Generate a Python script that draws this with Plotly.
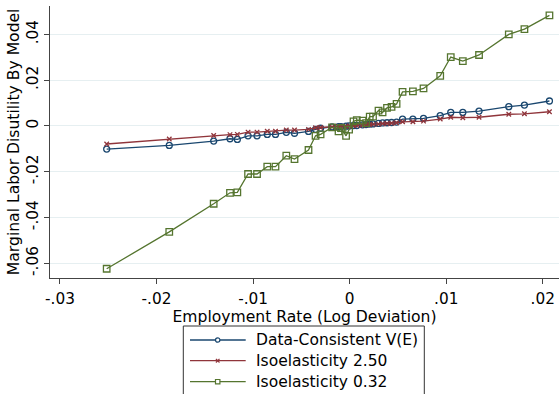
import plotly.graph_objects as go

# Employment rate (log deviation) at each observation
emp_dev = [-0.02516, -0.01868, -0.01408, -0.01239, -0.01163, -0.01052, -0.00959,
           -0.00853, -0.00768, -0.00656, -0.00571, -0.00426, -0.00353, -0.00301,
           -0.00182, -0.00115, -0.00089, -0.00037, -0.00006, 0.00040, 0.00074,
           0.00134, 0.00170, 0.00208, 0.00242, 0.00299, 0.00341, 0.00387,
           0.00434, 0.00486, 0.00548, 0.00655, 0.00765, 0.00938, 0.01047,
           0.01172, 0.01340, 0.01648, 0.01810, 0.02069]

# Marginal labor disutility implied by each model
mld_data = [-0.0101, -0.0085, -0.0066, -0.0056, -0.0059, -0.0043, -0.0043,
            -0.0037, -0.0037, -0.0028, -0.0032, -0.0024, -0.0015, -0.0010,
            -0.0004, -0.0003, -0.0003, -0.0001, 0.0000, 0.0002, 0.0002,
            0.0005, 0.0006, 0.0008, 0.0009, 0.0011, 0.0013, 0.0014,
            0.0015, 0.0017, 0.0030, 0.0030, 0.0033, 0.0045, 0.0059,
            0.0059, 0.0065, 0.0084, 0.0091, 0.0109]

mld_iso_250 = [-0.0079, -0.0057, -0.0042, -0.0038, -0.0037, -0.0027, -0.0027,
               -0.0023, -0.0023, -0.0018, -0.0018, -0.0015, -0.0008, -0.0007,
               -0.0004, -0.0003, -0.0002, -0.0001, 0.0000, 0.0001, 0.0002,
               0.0003, 0.0004, 0.0006, 0.0007, 0.0008, 0.0010, 0.0011,
               0.0012, 0.0014, 0.0018, 0.0018, 0.0021, 0.0030, 0.0038,
               0.0036, 0.0038, 0.0051, 0.0053, 0.0062]

mld_iso_032 = [-0.0624, -0.0463, -0.0340, -0.0292, -0.0290, -0.0210, -0.0210,
               -0.0178, -0.0178, -0.0130, -0.0145, -0.0105, -0.0043, -0.0037,
               -0.0006, -0.0024, -0.0009, -0.0043, -0.0016, 0.0020, 0.0025,
               0.0023, 0.0012, 0.0041, 0.0041, 0.0067, 0.0059, 0.0079,
               0.0083, 0.0096, 0.0149, 0.0151, 0.0164, 0.0219, 0.0301,
               0.0283, 0.0310, 0.0400, 0.0423, 0.0483]

series_names = ["Data-Consistent V(E)", "Isoelasticity 2.50", "Isoelasticity 0.32"]

x_tick_vals = [-0.03, -0.02, -0.01, 0, 0.01, 0.02]
x_tick_text = ["-.03", "-.02", "-.01", "0", ".01", ".02"]
y_tick_vals = [-0.06, -0.04, -0.02, 0, 0.02, 0.04]
y_tick_text = ["-.06", "-.04", "-.02", "0", ".02", ".04"]

NAVY = "#1a476f"
MAROON = "#90353b"
FOREST = "#55752f"
FONT = "DejaVu Sans, Verdana, sans-serif"
FS_TICK = 15.3
FS_TITLE = 15.6
FS_LEGEND = 15.5

W, H = 559, 394
MARGIN_L = 50
PLOT_TOP, PLOT_BOTTOM = 6, 277.7  # plot region edges, px from top


def px_x(px):
    """Horizontal pixel position -> paper coordinate."""
    return (px - MARGIN_L) / (W - MARGIN_L)


def px_y(py):
    """Vertical pixel position (from top) -> paper coordinate."""
    return 1 - py / H


styles = [
    dict(color=NAVY, symbol="circle-open", size=6),
    dict(color=MAROON, symbol="x-thin-open", size=4.5),
    dict(color=FOREST, symbol="square-open", size=6.5),
]

fig = go.Figure()
for name, values, st in zip(series_names, [mld_data, mld_iso_250, mld_iso_032], styles):
    fig.add_trace(go.Scatter(
        x=emp_dev, y=values, mode="lines+markers", name=name,
        line=dict(color=st["color"], width=1.3),
        marker=dict(symbol=st["symbol"], size=st["size"], color=st["color"],
                    line=dict(width=1.3, color=st["color"])),
    ))

# Legend box below the plot (runs past the lower edge of the figure)
shapes = [dict(type="rect", xref="paper", yref="paper",
               x0=px_x(183.3), x1=px_x(424.3), y0=px_y(326), y1=px_y(402),
               line=dict(color="#333333", width=1), fillcolor="white", layer="above")]
annotations = []
row_y = [340, 360.7, 381.7]
line_x0, line_x1, mark_x, text_x = 190, 245.7, 217.7, 254
for name, st, ry in zip(series_names, styles, row_y):
    c = st["color"]
    shapes.append(dict(type="line", xref="paper", yref="paper",
                       x0=px_x(line_x0), x1=px_x(line_x1), y0=px_y(ry), y1=px_y(ry),
                       line=dict(color=c, width=1.3), layer="above"))
    r = 2.2
    if st["symbol"].startswith("circle"):
        shapes.append(dict(type="circle", xref="paper", yref="paper",
                           x0=px_x(mark_x - r), x1=px_x(mark_x + r),
                           y0=px_y(ry + r), y1=px_y(ry - r),
                           line=dict(color=c, width=1.2), fillcolor="white", layer="above"))
    elif st["symbol"].startswith("square"):
        shapes.append(dict(type="rect", xref="paper", yref="paper",
                           x0=px_x(mark_x - r), x1=px_x(mark_x + r),
                           y0=px_y(ry + r), y1=px_y(ry - r),
                           line=dict(color=c, width=1.2), fillcolor="white", layer="above"))
    else:
        s = 1.8
        path = (f"M {px_x(mark_x - s)} {px_y(ry - s)} L {px_x(mark_x + s)} {px_y(ry + s)} "
                f"M {px_x(mark_x - s)} {px_y(ry + s)} L {px_x(mark_x + s)} {px_y(ry - s)}")
        shapes.append(dict(type="path", xref="paper", yref="paper", path=path,
                           line=dict(color=c, width=1.2), layer="above"))
    annotations.append(dict(xref="paper", yref="paper", x=px_x(text_x), y=px_y(ry),
                            xanchor="left", yanchor="middle", showarrow=False, text=name,
                            font=dict(family=FONT, size=FS_LEGEND, color="black")))

fig.update_layout(
    width=W, height=H,
    margin=dict(l=MARGIN_L, r=0, t=0, b=0),
    paper_bgcolor="white", plot_bgcolor="white",
    font=dict(family=FONT, size=FS_TICK, color="black"),
    showlegend=False,
    shapes=shapes,
    annotations=annotations,
)
fig.update_xaxes(
    range=[-0.03103, 0.02168],
    tickvals=x_tick_vals, ticktext=x_tick_text,
    showgrid=False, zeroline=False, automargin=False,
    showline=True, linecolor="#444444", linewidth=1,
    ticks="outside", ticklen=5, tickcolor="#444444",
    tickfont=dict(size=FS_TICK), ticklabelstandoff=2,
    title=dict(text="Employment Rate (Log Deviation)", font=dict(size=FS_TITLE), standoff=0),
)
fig.update_yaxes(
    domain=[1 - PLOT_BOTTOM / H, 1 - PLOT_TOP / H],
    range=[-0.0663, 0.0524],
    tickvals=y_tick_vals, ticktext=y_tick_text, tickangle=-90,
    showgrid=True, gridcolor="#e6eff1", gridwidth=1.2,
    zeroline=False, automargin=False,
    showline=True, linecolor="#444444", linewidth=1,
    ticks="outside", ticklen=5, tickcolor="#444444",
    tickfont=dict(size=FS_TICK),
    title=dict(text="Marginal Labor Disutility By Model", font=dict(size=FS_TITLE), standoff=0),
)

fig.write_html("out.html")
